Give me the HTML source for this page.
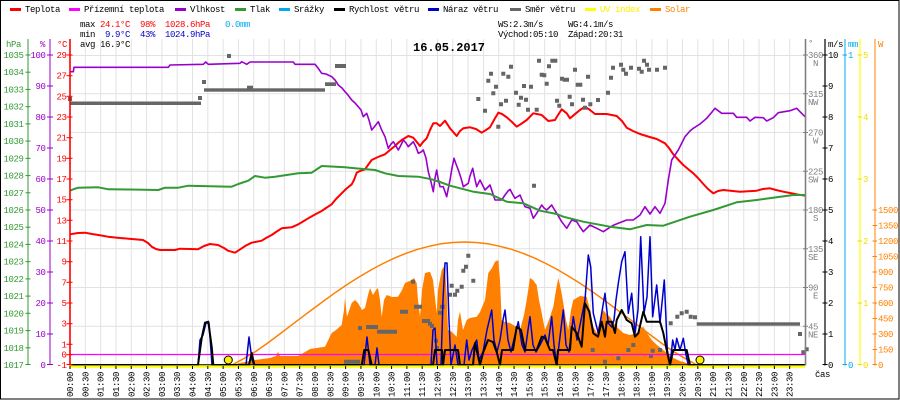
<!DOCTYPE html>
<html><head><meta charset="utf-8">
<style>
html,body{margin:0;padding:0;background:#fff;}
svg{display:block;}
text{font-family:"Liberation Mono",monospace;font-size:9px;letter-spacing:-0.4px;}
.t{font-weight:bold;font-size:12px;letter-spacing:0;}
</style></head>
<body>
<svg width="900" height="400" viewBox="0 0 900 400" xmlns="http://www.w3.org/2000/svg">
<rect x="0" y="0" width="900" height="400" fill="#fff"/>
<rect x="0.5" y="0.5" width="898.5" height="398.5" fill="none" stroke="#000" stroke-width="1"/>

<!-- legend -->
<g>
<rect x="10" y="8" width="11" height="3" fill="#ff0000"/><text x="25" y="12">Teplota</text>
<rect x="69" y="8" width="11" height="3" fill="#ff00ff"/><text x="84" y="12">Přízemní teplota</text>
<rect x="175" y="8" width="11" height="3" fill="#9900cc"/><text x="190" y="12">Vlhkost</text>
<rect x="235" y="8" width="11" height="3" fill="#339933"/><text x="250" y="12">Tlak</text>
<rect x="279" y="8" width="11" height="3" fill="#00aaee"/><text x="294" y="12">Srážky</text>
<rect x="334" y="8" width="11" height="3" fill="#000"/><text x="349" y="12">Rychlost větru</text>
<rect x="428" y="8" width="11" height="3" fill="#0000cc"/><text x="443" y="12">Náraz větru</text>
<rect x="510" y="8" width="11" height="3" fill="#666"/><text x="525" y="12">Směr větru</text>
<rect x="585" y="8" width="11" height="3" fill="#ffff00"/><text x="600" y="12" fill="#ffee00">UV index</text>
<rect x="650" y="8" width="11" height="3" fill="#ff8000"/><text x="665" y="12" fill="#ff8000">Solar</text>
</g>

<!-- stats -->
<text x="80" y="27">max</text><text x="100" y="27" fill="#ff0000">24.1°C</text><text x="140" y="27" fill="#ff0000">98%</text><text x="165" y="27" fill="#ff0000">1028.6hPa</text><text x="225" y="27" fill="#00aaee">0.0mm</text>
<text x="80" y="37">min</text><text x="105" y="37" fill="#0000cc">9.9°C</text><text x="140" y="37" fill="#0000cc">43%</text><text x="165" y="37" fill="#0000cc">1024.9hPa</text>
<text x="80" y="47">avg 16.9°C</text>
<text x="498" y="27">WS:2.3m/s</text><text x="568" y="27">WG:4.1m/s</text>
<text x="498" y="37">Východ:05:10</text><text x="568" y="37">Západ:20:31</text>

<!-- grid -->
<g stroke="#e2e2e2" stroke-width="1">
<line x1="70" y1="55.5" x2="805" y2="55.5"/><line x1="70" y1="93.75" x2="805" y2="93.75"/><line x1="70" y1="132.5" x2="805" y2="132.5"/><line x1="70" y1="171.25" x2="805" y2="171.25"/><line x1="70" y1="210" x2="805" y2="210"/><line x1="70" y1="248.75" x2="805" y2="248.75"/><line x1="70" y1="287.5" x2="805" y2="287.5"/><line x1="70" y1="326.25" x2="805" y2="326.25"/>
<line x1="85.31" y1="39" x2="85.31" y2="365"/><line x1="100.63" y1="39" x2="100.63" y2="365"/><line x1="115.94" y1="39" x2="115.94" y2="365"/><line x1="131.25" y1="39" x2="131.25" y2="365"/><line x1="146.56" y1="39" x2="146.56" y2="365"/><line x1="161.88" y1="39" x2="161.88" y2="365"/><line x1="177.19" y1="39" x2="177.19" y2="365"/><line x1="192.5" y1="39" x2="192.5" y2="365"/><line x1="207.81" y1="39" x2="207.81" y2="365"/><line x1="223.13" y1="39" x2="223.13" y2="365"/><line x1="238.44" y1="39" x2="238.44" y2="365"/><line x1="253.75" y1="39" x2="253.75" y2="365"/><line x1="269.06" y1="39" x2="269.06" y2="365"/><line x1="284.38" y1="39" x2="284.38" y2="365"/><line x1="299.69" y1="39" x2="299.69" y2="365"/><line x1="315" y1="39" x2="315" y2="365"/><line x1="330.31" y1="39" x2="330.31" y2="365"/><line x1="345.63" y1="39" x2="345.63" y2="365"/><line x1="360.94" y1="39" x2="360.94" y2="365"/><line x1="376.25" y1="39" x2="376.25" y2="365"/><line x1="391.56" y1="39" x2="391.56" y2="365"/><line x1="406.88" y1="39" x2="406.88" y2="365"/><line x1="422.19" y1="39" x2="422.19" y2="365"/><line x1="437.5" y1="39" x2="437.5" y2="365"/><line x1="452.81" y1="39" x2="452.81" y2="365"/><line x1="468.13" y1="39" x2="468.13" y2="365"/><line x1="483.44" y1="39" x2="483.44" y2="365"/><line x1="498.75" y1="39" x2="498.75" y2="365"/><line x1="514.06" y1="39" x2="514.06" y2="365"/><line x1="529.38" y1="39" x2="529.38" y2="365"/><line x1="544.69" y1="39" x2="544.69" y2="365"/><line x1="560" y1="39" x2="560" y2="365"/><line x1="575.31" y1="39" x2="575.31" y2="365"/><line x1="590.63" y1="39" x2="590.63" y2="365"/><line x1="605.94" y1="39" x2="605.94" y2="365"/><line x1="621.25" y1="39" x2="621.25" y2="365"/><line x1="636.56" y1="39" x2="636.56" y2="365"/><line x1="651.88" y1="39" x2="651.88" y2="365"/><line x1="667.19" y1="39" x2="667.19" y2="365"/><line x1="682.5" y1="39" x2="682.5" y2="365"/><line x1="697.81" y1="39" x2="697.81" y2="365"/><line x1="713.13" y1="39" x2="713.13" y2="365"/><line x1="728.44" y1="39" x2="728.44" y2="365"/><line x1="743.75" y1="39" x2="743.75" y2="365"/><line x1="759.06" y1="39" x2="759.06" y2="365"/><line x1="774.38" y1="39" x2="774.38" y2="365"/><line x1="789.69" y1="39" x2="789.69" y2="365"/>
</g>

<!-- title -->
<text class="t" x="413" y="51">16.05.2017</text>

<!-- solar area -->
<polygon fill="#ff8000" points="232,365 240,363 255,360 270,358 276,356 278,352 280,356 298,356 305,352 310,349 325,346.7 331.7,333 336,330 341.7,325 344,310 345,298 347,316.7 351.7,303 355,300 358,303 362,310 365,308 368,295 370,288 373,295 376,290 378,288 380,300 381.7,316.7 384,300 386.7,295 392,297 398,296.7 402,290 405,283 411.7,280 414,278 416.7,283 418,300 420,316.7 422,290 425,273 430,271.7 433,280 436.7,313 438,290 441.7,270 445,265 447,300 448,330 451.7,331.7 456.7,336.7 458,320 460,311.7 463,330 466.7,320 470,318 476.7,316.7 480,312 485,300 488.3,273 492,268 495,261.7 498.3,260 500,280 501.7,320 505,322 510,323 515,326 520,330 524,315 526.7,300 530,278 533,280 536.7,285 539,300 541.7,313 545,330 549,320 553.3,306.7 556,290 558.3,278 561,290 563.3,303 566,320 568.3,330 571,310 573.3,300 580,296 586.7,296.7 590,310 593.3,326.7 596.7,333 600,320 603.3,310 607,315 610,316.7 613,322 616.7,326.7 620,330 623.3,333 630,335 636.7,333 643.3,326.7 647,333 651.7,340 657,345 663.3,350 668,354 673.3,358 680,361 686.7,363 693,365"/>
<!-- theoretical solar -->
<polyline fill="none" stroke="#ff8000" stroke-width="1.5" points="232,365 243.6,358.7 255.25,351.7 266.9,343.6 278.5,335 290.1,326.2 301.75,317.3 313.4,308.6 325,300 336.6,291.7 348.25,283.8 359.9,276.5 371.5,269.6 383.1,263.5 394.75,257.9 406.4,253.2 418,249.2 429.6,246.2 441.25,243.8 452.9,242.5 464.5,242 476.1,242.5 487.75,243.8 499.4,246.2 511,249.2 522.6,253.2 534.25,257.9 545.9,263.5 557.5,269.6 569.1,276.5 580.75,283.8 592.4,291.7 604,300 615.6,308.6 627.25,317.3 638.9,326.2 650.5,335 662.1,343.6 673.75,351.7 685.4,358.7 697,365"/>

<!-- temperature -->
<polyline fill="none" stroke="#ff0000" stroke-width="2" stroke-linejoin="round" points="70,234.3 78,233 85,232.7 92,234 98.3,235 108,236.7 120,238 131.7,239 143,240 148,243 151.7,246.7 156,249 160,250 175,250 180,248.7 190,249 198,249.3 204,246 210,244 218,245 224,248 228,250.7 235,252.7 241.7,248.3 246,245.5 251.7,242.7 261.7,240.7 266,238 271.7,235 276,232 281.7,228.3 291.7,227.3 298.3,224.3 303,221.5 308.3,218.3 315,214.5 321.7,211 326,208 331.7,204.3 336,199 341.7,193.3 346,189 351.7,184.3 354,180 356.7,172.7 360,171 365,169.3 368,165 371.7,160 378,157 385,154.3 390,150 395,146 398,143 401.7,140 408.3,136 413.3,137.7 416,141 420,146 423,142 426.7,138.3 430,130 433.3,123.3 436.7,123.3 440,126 445,120.7 450,128.3 456.7,136 460,131 463.3,128.3 470,127.3 476,129 481.7,132.7 486,130 490,127.3 494,120 498.3,112.7 502,114 506.7,117.3 512,122 516.7,126.7 521,124 526.7,120 533.3,113.3 537,114 541.7,115 548.3,121 555,120 558,115 561.7,109.3 566.7,113.3 570,118.3 576.7,112.7 580,110 585,106.7 590,110 595,114 606.7,114 616.7,116 622,121 626.7,127.7 633,131 640,134 648,136.5 656.7,139 665,143.3 669,148 673.3,154.3 678,159.5 683.3,165 688,169 693.3,173.3 698,178 703.3,184 708,189 713.3,193.3 718,191 723.3,190 740,191.7 756.7,190.7 763,189 770,188.3 776,190 783.3,191.7 790,193 796.7,194.3 805,195.7"/>

<!-- humidity -->
<polyline fill="none" stroke="#9900cc" stroke-width="1.6" stroke-linejoin="round" points="70,71.7 73.3,71.7 74,67.3 168.3,67.3 170,65 203.3,64.3 205.7,62 208.3,64.3 240,63.3 241.7,61.7 246.7,64.3 250,62 293.3,62 295,64.3 315,64.3 318,68 321.7,73.3 326,74 331.7,76.7 335,80 338.3,85 342,88 345,91.7 348,95 351.7,100 355,103 358.3,106.7 361,110 363.3,116.7 366.7,113.3 369,120 371.7,130 375,126 378.3,121.7 381.7,130 385,136.7 388.3,148.3 391,144 393.3,141.7 396,146 398.3,150 401,145 403.3,140 406,143 408.3,146.7 411,144 413.3,141.7 416,147 418.3,153.3 421,152 423.3,150 426,158 428.3,171.7 431,182 433.3,191.7 435,178 436.7,170 438,178 440,186.7 443.3,186.7 446.7,196.7 450,180 452,168 454,158.3 456,164 458.3,170 461,178 463.3,186.7 468.3,183.3 470,176 472.7,168.3 474.7,178 476.7,186.7 480,180 485,190 490,185 495,200 501.7,200 505,195 508,191 510,189.3 512.5,194 515,198.3 520,195 522.5,201 525,206.7 530,208.3 533.3,218.3 536.7,213.3 541.7,205 544,208 546.7,210 551.7,205 554,209 556.7,213.3 561.7,221.7 566.7,228.3 571.7,220 576.7,221.7 580,227 583.3,231.7 590,225 596.7,228.3 603.3,231.7 610,227.3 614,225 618.3,223.3 626.7,220 633.3,220 640,215 645,206.7 650,214 655,206.7 660,213.3 665,203.3 668.3,180 671.7,160 675,155 678.3,150 685,136.7 690,131 693.3,128.3 700,124 706.7,118.3 712,112 715,108.3 721.7,113.3 733.3,113.3 736.7,117.3 746.7,117.3 750,121 755,117.3 763.3,117.7 766.7,121 773.3,117.7 778.3,112.7 790,110.7 796.7,108.3 800,111.7 805,116.7"/>

<!-- pressure -->
<polyline fill="none" stroke="#339933" stroke-width="2" stroke-linejoin="round" points="70,190.7 74,189 78.3,187.7 98.3,187.3 108.3,189.3 130,189.5 158.3,190 165,187.7 178.3,187.7 188.3,185.7 231.7,186.7 238.3,184 248.3,180.7 255,176 265,177.7 275,176.7 298.3,173.3 311.7,172.7 321.7,166 345,167.3 355,168.3 375,170 385,173.3 398.3,176 418.3,176.7 431.7,179.3 440,182 450,185.7 473.3,191.7 490,194 506.7,201.7 523.3,203.3 540,210.7 556.7,214 563.3,216.7 583.3,221.7 610,226.7 630,229.3 646.7,225 663.3,225.7 690,216.7 713.3,210 736.7,202.3 756.7,200 776.7,197.3 793.3,195 805,195"/>

<!-- wind direction -->
<g fill="#666">
<rect x="68" y="97" width="4" height="4"/>
<rect x="70" y="101.5" width="131" height="3.5"/>
<rect x="198" y="96" width="4" height="4"/>
<rect x="202" y="80" width="4" height="4"/>
<rect x="204" y="88.3" width="121" height="3.4"/>
<rect x="247" y="85.7" width="6" height="3.4"/>
<rect x="325" y="82.3" width="11" height="3.7"/>
<rect x="335" y="64" width="11" height="4"/>
<rect x="227" y="54" width="4" height="4"/>
<rect x="696.7" y="322.3" width="103.3" height="3.4"/>
<path d="M476.3,97h4v4h-4zM483,108.7h4v4h-4zM486.3,78.7h4v4h-4zM489,71.7h4v4h-4zM491.3,91.3h4v4h-4zM494,84.7h4v4h-4zM496.3,124.7h4v4h-4zM499,102.3h4v4h-4zM501.3,71.7h4v4h-4zM504,98.7h4v4h-4zM506.3,74.7h4v4h-4zM509,64.7h4v4h-4zM514,90.7h4v4h-4zM516.7,102.7h4v4h-4zM519,95.7h4v4h-4zM522,84h4v4h-4zM524,97.7h4v4h-4zM526,107.7h4v4h-4zM529,84.7h4v4h-4zM534.7,107.7h4v4h-4zM537,58.7h4v4h-4zM539.7,72.7h4v4h-4zM542.3,73.3h4v4h-4zM544.7,81.7h4v4h-4zM547,64.3h4v4h-4zM550.3,58.7h4v4h-4zM553.3,58.7h4v4h-4zM555,98.7h4v4h-4zM557.3,103.7h4v4h-4zM560,76.7h4v4h-4zM562.7,77.7h4v4h-4zM565,77.7h4v4h-4zM567.7,94.7h4v4h-4zM570,102.3h4v4h-4zM573,67.7h4v4h-4zM575.7,82.7h4v4h-4zM578.3,82.7h4v4h-4zM581,97.7h4v4h-4zM583,105.7h4v4h-4zM586,74.7h4v4h-4zM588.3,102.3h4v4h-4zM596,98h4v4h-4zM606,90.7h4v4h-4zM609,75.7h4v4h-4zM611,65.7h4v4h-4zM619,62.7h4v4h-4zM621.3,67.7h4v4h-4zM624,71.7h4v4h-4zM629,65.7h4v4h-4zM637,66.7h4v4h-4zM639.7,69.7h4v4h-4zM642,58.7h4v4h-4zM645,62.7h4v4h-4zM647,67.7h4v4h-4zM655,67.7h4v4h-4zM663,65.7h4v4h-4zM532,183.7h4v4h-4z
M466.3,253.7h4v4h-4zM464,264.7h4v4h-4zM461.3,268.7h4v4h-4zM459.7,284.7h4v4h-4zM471.3,278.7h4v4h-4zM449.7,283.7h4v4h-4zM455.3,288.7h4v4h-4zM453,292.7h4v4h-4zM448,292.7h4v4h-4zM440.7,304.7h4v4h-4zM438,310.7h4v4h-4zM428,321.7h4v4h-4zM434,338.7h4v4h-4zM590.7,348h4v4h-4zM603,359.7h4v4h-4zM616.3,356.3h4v4h-4zM631.3,343h4v4h-4zM626.3,348h4v4h-4zM650.7,348.7h4v4h-4zM658,348h4v4h-4zM649,354h4v4h-4zM675.3,314.7h4v4h-4zM679.7,311.3h4v4h-4zM684.7,309.7h4v4h-4zM688.7,314.7h4v4h-4zM693,315.3h4v4h-4zM668.7,321.3h4v4h-4zM798,332h4v4h-4zM801.3,350.3h4v4h-4zM804.7,347.3h4v4h-4z
M411,279.7h4v4h-4zM414,304.7h4v4h-4zM418,304.7h4v4h-4zM400,309.7h4v4h-4zM404,309.7h4v4h-4zM440,304.7h4v4h-4zM422,319h4v4h-4zM426,319h4v4h-4zM430,324h4v4h-4zM366,325h4v4h-4zM370,325h4v4h-4zM374,325h4v4h-4zM377,329.7h4v4h-4zM381,329.7h4v4h-4zM385,329.7h4v4h-4zM389,329.7h4v4h-4zM393,329.7h4v4h-4zM358,326h4v4h-4zM344,359.7h4v4h-4zM348,359.7h4v4h-4zM352,359.7h4v4h-4zM356,359.7h4v4h-4zM435,346h4v4h-4z"/>
</g>

<!-- ground temp (0 °C) -->
<line x1="70" y1="354.5" x2="805" y2="354.5" stroke="#ff00ff" stroke-width="1.2"/>

<!-- wind gust -->
<polyline fill="none" stroke="#0000cc" stroke-width="1.5" stroke-linejoin="round" points="70,365 198,365 200,340 203,335 206,323 209,323 212,365 246,365 249,337 252,360 254,365 364,365 367,337 370,365 375,365 377,348 379,365 431,365 433,330 435,328 437,365 441,365 443,300 445,263 447,263 449,320 451,365 455,345 458,365 464,365 466.7,340 469,360 472,350 476.7,340 479,360 483,352 487,330 491.7,310 494,340 497,352 500,340 503,320 505,310 508,340 511,352 515,335 518.3,321.7 522,345 525,352 528,330 530,316.7 533,345 536,352 540,345 545,335 548,345 551.7,316.7 554,345 556.7,365 559,345 563.3,310 566,345 569,352 573.3,316.7 577,340 581.7,316.7 585,300 588.3,255 590.7,266.7 593.3,313.3 598.3,333.3 601.7,313.3 605,293.3 608.3,323.3 611.7,327 614,320 616,300 618.3,283.3 621.7,261.7 625,251.7 628.3,313.3 631.7,293.3 635,333.3 638,310 640.7,236.7 644,313.3 647,297 650,236.7 652.7,316.7 656.7,285 660,323 664.3,280 667.3,350 670,365 672.7,340 675,350 676.7,338.3 680,350 683.3,338.3 686,355 688.3,365 805,365"/>

<!-- wind speed -->
<polyline fill="none" stroke="#000" stroke-width="2" stroke-linejoin="round" points="70,365 198,365 201.7,338 205,322.7 208.3,321.7 211.7,346.7 213.3,365 249,365 251.7,353 254.3,365 361.7,365 364.3,350 368.3,350 371.7,365 433,365 435,350 442,350 443,365 445,350 458,350 460,365 473,365 475,343 480,365 483,353 488,340 493,342 497,353 500,365 502,350 513,350 516.7,326.7 521,330 523,340 525,350 536.7,350 541.7,336.7 545,338 550,350 553,350 556.7,365 558,350 570,350 571.7,326.7 576.7,333 581.7,346.7 585,303.3 589.3,311.7 593.3,333.3 598,336.7 601.7,321.7 605,336.7 606.7,321.7 611.7,321.7 615,333 616.7,320 621.7,310 626.7,320 631.7,323.3 635,336.7 638.3,333.3 643.3,311.7 646.7,321.7 660,321.7 663.3,333 666.7,350 670,365 673.3,350 686.7,350 690,365 805,365"/>

<!-- UV baseline -->
<rect x="70" y="365.3" width="735" height="2.4" fill="#ffff00"/>
<line x1="70" y1="364.8" x2="805" y2="364.8" stroke="#000" stroke-width="1"/>
<circle cx="228.3" cy="360" r="4" fill="#ffee00" stroke="#000" stroke-width="1"/>
<circle cx="700" cy="360" r="4" fill="#ffee00" stroke="#000" stroke-width="1"/>

<!-- left axes -->
<line x1="28" y1="39" x2="28" y2="365" stroke="#339933" stroke-width="1"/>
<line x1="50" y1="39" x2="50" y2="365" stroke="#9900cc" stroke-width="1"/>
<line x1="70" y1="39" x2="70" y2="365.5" stroke="#ff0000" stroke-width="1.6"/>
<text x="6" y="47" fill="#339933">hPa</text>
<text x="40" y="47" fill="#9900cc">%</text>
<text x="57" y="47" fill="#ff0000">°C</text>

<g stroke="#339933" stroke-width="1">
<line x1="25.5" y1="55" x2="30.5" y2="55"/><line x1="25.5" y1="72.2" x2="30.5" y2="72.2"/><line x1="25.5" y1="89.4" x2="30.5" y2="89.4"/><line x1="25.5" y1="106.7" x2="30.5" y2="106.7"/><line x1="25.5" y1="123.9" x2="30.5" y2="123.9"/><line x1="25.5" y1="141.1" x2="30.5" y2="141.1"/><line x1="25.5" y1="158.3" x2="30.5" y2="158.3"/><line x1="25.5" y1="175.6" x2="30.5" y2="175.6"/><line x1="25.5" y1="192.8" x2="30.5" y2="192.8"/><line x1="25.5" y1="210" x2="30.5" y2="210"/><line x1="25.5" y1="227.2" x2="30.5" y2="227.2"/><line x1="25.5" y1="244.4" x2="30.5" y2="244.4"/><line x1="25.5" y1="261.7" x2="30.5" y2="261.7"/><line x1="25.5" y1="278.9" x2="30.5" y2="278.9"/><line x1="25.5" y1="296.1" x2="30.5" y2="296.1"/><line x1="25.5" y1="313.3" x2="30.5" y2="313.3"/><line x1="25.5" y1="330.6" x2="30.5" y2="330.6"/><line x1="25.5" y1="347.8" x2="30.5" y2="347.8"/><line x1="25.5" y1="364.5" x2="30.5" y2="364.5"/>
</g>
<g fill="#339933">
<text x="3.5" y="58">1035</text><text x="3.5" y="75.2">1034</text><text x="3.5" y="92.4">1033</text><text x="3.5" y="109.7">1032</text><text x="3.5" y="126.9">1031</text><text x="3.5" y="144.1">1030</text><text x="3.5" y="161.3">1029</text><text x="3.5" y="178.6">1028</text><text x="3.5" y="195.8">1027</text><text x="3.5" y="213">1026</text><text x="3.5" y="230.2">1025</text><text x="3.5" y="247.4">1024</text><text x="3.5" y="264.7">1023</text><text x="3.5" y="281.9">1022</text><text x="3.5" y="299.1">1021</text><text x="3.5" y="316.3">1020</text><text x="3.5" y="333.6">1019</text><text x="3.5" y="350.8">1018</text><text x="3.5" y="368">1017</text>
</g>

<g stroke="#9900cc" stroke-width="1">
<line x1="47" y1="55" x2="53" y2="55"/><line x1="47" y1="86" x2="53" y2="86"/><line x1="47" y1="117" x2="53" y2="117"/><line x1="47" y1="148" x2="53" y2="148"/><line x1="47" y1="179" x2="53" y2="179"/><line x1="47" y1="210" x2="53" y2="210"/><line x1="47" y1="241" x2="53" y2="241"/><line x1="47" y1="272" x2="53" y2="272"/><line x1="47" y1="303" x2="53" y2="303"/><line x1="47" y1="334" x2="53" y2="334"/><line x1="47" y1="364.5" x2="53" y2="364.5"/>
</g>
<g fill="#9900cc">
<text x="30.5" y="58">100</text><text x="35.5" y="89">90</text><text x="35.5" y="120">80</text><text x="35.5" y="151">70</text><text x="35.5" y="182">60</text><text x="35.5" y="213">50</text><text x="35.5" y="244">40</text><text x="35.5" y="275">30</text><text x="35.5" y="306">20</text><text x="35.5" y="337">10</text><text x="40.5" y="368">0</text>
</g>

<g stroke="#ff0000" stroke-width="1">
<line x1="66.5" y1="55" x2="72.5" y2="55"/><line x1="66.5" y1="75.7" x2="72.5" y2="75.7"/><line x1="66.5" y1="96.3" x2="72.5" y2="96.3"/><line x1="66.5" y1="117" x2="72.5" y2="117"/><line x1="66.5" y1="137.7" x2="72.5" y2="137.7"/><line x1="66.5" y1="158.3" x2="72.5" y2="158.3"/><line x1="66.5" y1="179" x2="72.5" y2="179"/><line x1="66.5" y1="199.7" x2="72.5" y2="199.7"/><line x1="66.5" y1="220.3" x2="72.5" y2="220.3"/><line x1="66.5" y1="241" x2="72.5" y2="241"/><line x1="66.5" y1="261.7" x2="72.5" y2="261.7"/><line x1="66.5" y1="282.3" x2="72.5" y2="282.3"/><line x1="66.5" y1="303" x2="72.5" y2="303"/><line x1="66.5" y1="323.7" x2="72.5" y2="323.7"/><line x1="66.5" y1="344.3" x2="72.5" y2="344.3"/><line x1="66.5" y1="354.7" x2="72.5" y2="354.7"/><line x1="66.5" y1="364.5" x2="72.5" y2="364.5"/>
</g>
<g fill="#ff0000">
<text x="56.5" y="58">29</text><text x="56.5" y="78.7">27</text><text x="56.5" y="99.3">25</text><text x="56.5" y="120">23</text><text x="56.5" y="140.7">21</text><text x="56.5" y="161.3">19</text><text x="56.5" y="182">17</text><text x="56.5" y="202.7">15</text><text x="56.5" y="223.3">13</text><text x="56.5" y="244">11</text><text x="61.5" y="264.7">9</text><text x="61.5" y="285.3">7</text><text x="61.5" y="306">5</text><text x="61.5" y="326.7">3</text><text x="61.5" y="347.3">1</text><text x="61.5" y="357.7">0</text><text x="56.5" y="368">-1</text>
</g>

<!-- right axes -->
<line x1="805.5" y1="39" x2="805.5" y2="365.5" stroke="#808080" stroke-width="1.6"/>
<line x1="825" y1="39" x2="825" y2="365.5" stroke="#000" stroke-width="1.2"/>
<line x1="845" y1="39" x2="845" y2="365.5" stroke="#00aaee" stroke-width="1"/>
<line x1="860" y1="39" x2="860" y2="365.5" stroke="#ffff00" stroke-width="1.2"/>
<line x1="875" y1="39" x2="875" y2="365.5" stroke="#ff8000" stroke-width="1"/>
<text x="808" y="46" fill="#808080">°</text>
<text x="828" y="47">m/s</text>
<text x="848" y="47" fill="#00aaee">mm</text>
<text x="878" y="47" fill="#ff8000">W</text>

<g stroke="#808080" stroke-width="1">
<line x1="803" y1="55" x2="808" y2="55"/><line x1="803" y1="93.75" x2="808" y2="93.75"/><line x1="803" y1="132.5" x2="808" y2="132.5"/><line x1="803" y1="171.25" x2="808" y2="171.25"/><line x1="803" y1="210" x2="808" y2="210"/><line x1="803" y1="248.75" x2="808" y2="248.75"/><line x1="803" y1="287.5" x2="808" y2="287.5"/><line x1="803" y1="326.25" x2="808" y2="326.25"/>
</g>
<g fill="#808080">
<text x="808" y="58">360</text><text x="813" y="66">N</text>
<text x="808" y="96.75">315</text><text x="808" y="104.75">NW</text>
<text x="808" y="135.5">270</text><text x="813" y="143.5">W</text>
<text x="808" y="174.25">225</text><text x="808" y="182.25">SW</text>
<text x="808" y="213">180</text><text x="813" y="221">S</text>
<text x="808" y="251.75">135</text><text x="808" y="259.75">SE</text>
<text x="808" y="290.5">90</text><text x="813" y="298.5">E</text>
<text x="808" y="329.25">45</text><text x="808" y="337.25">NE</text>
</g>

<g stroke="#000" stroke-width="1">
<line x1="822.5" y1="55" x2="827.5" y2="55"/><line x1="822.5" y1="86" x2="827.5" y2="86"/><line x1="822.5" y1="117" x2="827.5" y2="117"/><line x1="822.5" y1="148" x2="827.5" y2="148"/><line x1="822.5" y1="179" x2="827.5" y2="179"/><line x1="822.5" y1="210" x2="827.5" y2="210"/><line x1="822.5" y1="241" x2="827.5" y2="241"/><line x1="822.5" y1="272" x2="827.5" y2="272"/><line x1="822.5" y1="303" x2="827.5" y2="303"/><line x1="822.5" y1="334" x2="827.5" y2="334"/><line x1="822.5" y1="364.5" x2="827.5" y2="364.5"/>
</g>
<g>
<text x="828" y="58">10</text><text x="828" y="89">9</text><text x="828" y="120">8</text><text x="828" y="151">7</text><text x="828" y="182">6</text><text x="828" y="213">5</text><text x="828" y="244">4</text><text x="828" y="275">3</text><text x="828" y="306">2</text><text x="828" y="337">1</text><text x="828" y="368">0</text>
</g>

<g stroke="#00aaee" stroke-width="1"><line x1="842.5" y1="55" x2="847" y2="55"/><line x1="842.5" y1="364.5" x2="847" y2="364.5"/></g>
<text x="848" y="58" fill="#00aaee">1</text><text x="848" y="368" fill="#00aaee">0</text>

<g stroke="#eedd00" stroke-width="1">
<line x1="857.5" y1="55" x2="862" y2="55"/><line x1="857.5" y1="117" x2="862" y2="117"/><line x1="857.5" y1="179" x2="862" y2="179"/><line x1="857.5" y1="241" x2="862" y2="241"/><line x1="857.5" y1="303" x2="862" y2="303"/><line x1="857.5" y1="364.5" x2="862" y2="364.5"/>
</g>
<g fill="#eedd00">
<text x="863" y="58">5</text><text x="863" y="120">4</text><text x="863" y="182">3</text><text x="863" y="244">2</text><text x="863" y="306">1</text><text x="863" y="368">0</text>
</g>

<g stroke="#ff8000" stroke-width="1">
<line x1="872.5" y1="210" x2="877" y2="210"/><line x1="872.5" y1="225.5" x2="877" y2="225.5"/><line x1="872.5" y1="241" x2="877" y2="241"/><line x1="872.5" y1="256.5" x2="877" y2="256.5"/><line x1="872.5" y1="272" x2="877" y2="272"/><line x1="872.5" y1="287.5" x2="877" y2="287.5"/><line x1="872.5" y1="303" x2="877" y2="303"/><line x1="872.5" y1="318.5" x2="877" y2="318.5"/><line x1="872.5" y1="334" x2="877" y2="334"/><line x1="872.5" y1="349.5" x2="877" y2="349.5"/><line x1="872.5" y1="364.5" x2="877" y2="364.5"/>
</g>
<g fill="#ff8000">
<text x="878" y="213">1500</text><text x="878" y="228.5">1350</text><text x="878" y="244">1200</text><text x="878" y="259.5">1050</text><text x="878" y="275">900</text><text x="878" y="290.5">750</text><text x="878" y="306">600</text><text x="878" y="321.5">450</text><text x="878" y="337">300</text><text x="878" y="352.5">150</text><text x="878" y="368">0</text>
</g>

<text x="815" y="377">čas</text>

<!-- x ticks -->
<g stroke="#000" stroke-width="1">
<line x1="70" y1="366" x2="70" y2="369"/><line x1="85.31" y1="366" x2="85.31" y2="369"/><line x1="100.63" y1="366" x2="100.63" y2="369"/><line x1="115.94" y1="366" x2="115.94" y2="369"/><line x1="131.25" y1="366" x2="131.25" y2="369"/><line x1="146.56" y1="366" x2="146.56" y2="369"/><line x1="161.88" y1="366" x2="161.88" y2="369"/><line x1="177.19" y1="366" x2="177.19" y2="369"/><line x1="192.5" y1="366" x2="192.5" y2="369"/><line x1="207.81" y1="366" x2="207.81" y2="369"/><line x1="223.13" y1="366" x2="223.13" y2="369"/><line x1="238.44" y1="366" x2="238.44" y2="369"/><line x1="253.75" y1="366" x2="253.75" y2="369"/><line x1="269.06" y1="366" x2="269.06" y2="369"/><line x1="284.38" y1="366" x2="284.38" y2="369"/><line x1="299.69" y1="366" x2="299.69" y2="369"/><line x1="315" y1="366" x2="315" y2="369"/><line x1="330.31" y1="366" x2="330.31" y2="369"/><line x1="345.63" y1="366" x2="345.63" y2="369"/><line x1="360.94" y1="366" x2="360.94" y2="369"/><line x1="376.25" y1="366" x2="376.25" y2="369"/><line x1="391.56" y1="366" x2="391.56" y2="369"/><line x1="406.88" y1="366" x2="406.88" y2="369"/><line x1="422.19" y1="366" x2="422.19" y2="369"/><line x1="437.5" y1="366" x2="437.5" y2="369"/><line x1="452.81" y1="366" x2="452.81" y2="369"/><line x1="468.13" y1="366" x2="468.13" y2="369"/><line x1="483.44" y1="366" x2="483.44" y2="369"/><line x1="498.75" y1="366" x2="498.75" y2="369"/><line x1="514.06" y1="366" x2="514.06" y2="369"/><line x1="529.38" y1="366" x2="529.38" y2="369"/><line x1="544.69" y1="366" x2="544.69" y2="369"/><line x1="560" y1="366" x2="560" y2="369"/><line x1="575.31" y1="366" x2="575.31" y2="369"/><line x1="590.63" y1="366" x2="590.63" y2="369"/><line x1="605.94" y1="366" x2="605.94" y2="369"/><line x1="621.25" y1="366" x2="621.25" y2="369"/><line x1="636.56" y1="366" x2="636.56" y2="369"/><line x1="651.88" y1="366" x2="651.88" y2="369"/><line x1="667.19" y1="366" x2="667.19" y2="369"/><line x1="682.5" y1="366" x2="682.5" y2="369"/><line x1="697.81" y1="366" x2="697.81" y2="369"/><line x1="713.13" y1="366" x2="713.13" y2="369"/><line x1="728.44" y1="366" x2="728.44" y2="369"/><line x1="743.75" y1="366" x2="743.75" y2="369"/><line x1="759.06" y1="366" x2="759.06" y2="369"/><line x1="774.38" y1="366" x2="774.38" y2="369"/><line x1="789.69" y1="366" x2="789.69" y2="369"/>
</g>

<!-- x labels -->
<g>
<text transform="translate(73,397) rotate(-90)">00:00</text>
<text transform="translate(88.31,397) rotate(-90)">00:30</text>
<text transform="translate(103.63,397) rotate(-90)">01:00</text>
<text transform="translate(118.94,397) rotate(-90)">01:30</text>
<text transform="translate(134.25,397) rotate(-90)">02:00</text>
<text transform="translate(149.56,397) rotate(-90)">02:30</text>
<text transform="translate(164.88,397) rotate(-90)">03:00</text>
<text transform="translate(180.19,397) rotate(-90)">03:30</text>
<text transform="translate(195.5,397) rotate(-90)">04:00</text>
<text transform="translate(210.81,397) rotate(-90)">04:30</text>
<text transform="translate(226.13,397) rotate(-90)">05:00</text>
<text transform="translate(241.44,397) rotate(-90)">05:30</text>
<text transform="translate(256.75,397) rotate(-90)">06:00</text>
<text transform="translate(272.06,397) rotate(-90)">06:30</text>
<text transform="translate(287.38,397) rotate(-90)">07:00</text>
<text transform="translate(302.69,397) rotate(-90)">07:30</text>
<text transform="translate(318,397) rotate(-90)">08:00</text>
<text transform="translate(333.31,397) rotate(-90)">08:30</text>
<text transform="translate(348.63,397) rotate(-90)">09:00</text>
<text transform="translate(363.94,397) rotate(-90)">09:30</text>
<text transform="translate(379.25,397) rotate(-90)">10:00</text>
<text transform="translate(394.56,397) rotate(-90)">10:30</text>
<text transform="translate(409.88,397) rotate(-90)">11:00</text>
<text transform="translate(425.19,397) rotate(-90)">11:30</text>
<text transform="translate(440.5,397) rotate(-90)">12:00</text>
<text transform="translate(455.81,397) rotate(-90)">12:30</text>
<text transform="translate(471.13,397) rotate(-90)">13:00</text>
<text transform="translate(486.44,397) rotate(-90)">13:30</text>
<text transform="translate(501.75,397) rotate(-90)">14:00</text>
<text transform="translate(517.06,397) rotate(-90)">14:30</text>
<text transform="translate(532.38,397) rotate(-90)">15:00</text>
<text transform="translate(547.69,397) rotate(-90)">15:30</text>
<text transform="translate(563,397) rotate(-90)">16:00</text>
<text transform="translate(578.31,397) rotate(-90)">16:30</text>
<text transform="translate(593.63,397) rotate(-90)">17:00</text>
<text transform="translate(608.94,397) rotate(-90)">17:30</text>
<text transform="translate(624.25,397) rotate(-90)">18:00</text>
<text transform="translate(639.56,397) rotate(-90)">18:30</text>
<text transform="translate(654.88,397) rotate(-90)">19:00</text>
<text transform="translate(670.19,397) rotate(-90)">19:30</text>
<text transform="translate(685.5,397) rotate(-90)">20:00</text>
<text transform="translate(700.81,397) rotate(-90)">20:30</text>
<text transform="translate(716.13,397) rotate(-90)">21:00</text>
<text transform="translate(731.44,397) rotate(-90)">21:30</text>
<text transform="translate(746.75,397) rotate(-90)">22:00</text>
<text transform="translate(762.06,397) rotate(-90)">22:30</text>
<text transform="translate(777.38,397) rotate(-90)">23:00</text>
<text transform="translate(792.69,397) rotate(-90)">23:30</text>
</g>
</svg>
</body></html>
